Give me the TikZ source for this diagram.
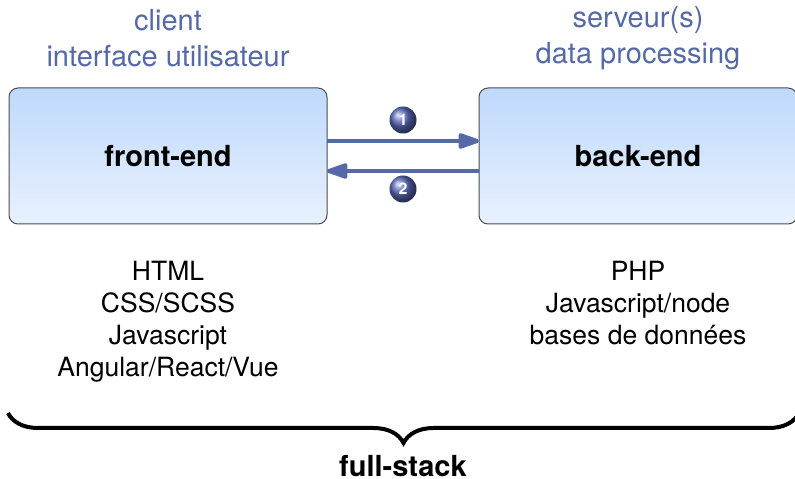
\documentclass[tikz,border=0pt]{standalone}
\usepackage{fontspec}
\setmainfont{TeX Gyre Heros}
\usetikzlibrary{arrows.meta, decorations.pathreplacing}
\definecolor{linkblue}{HTML}{5469A6}
\definecolor{boxtop}{HTML}{BFD9FC}
\definecolor{boxbottom}{HTML}{E8F1FE}
\begin{document}
\begin{tikzpicture}[x=1pt, y=1pt]
    \tikzset{
        tier box/.style={draw=black!70, line width=1pt, rounded corners=9pt, minimum width=318pt,
            minimum height=136pt, outer sep=0pt, top color=boxtop, bottom color=boxbottom,
            font=\fontsize{29}{32}\selectfont\bfseries},
        tier title/.style={align=center, text=linkblue, font=\fontsize{29}{36}\selectfont},
        tier list/.style={align=center, anchor=north, font=\fontsize{26.5}{32}\selectfont},
        link/.style={draw=linkblue, line width=4pt, -{Triangle[length=25pt, width=16pt, round]}},
        step ball/.style={circle, inner sep=0pt, minimum size=27pt, shading=ball,
            ball color=linkblue!85!blue!90!white, text=white, font=\fontsize{16}{16}\selectfont\bfseries},
    }
    \useasboundingbox (0, 0) rectangle (795, 479);
    \node[tier box] (frontend) at (168, 323) {front-end};
    \node[tier box] (backend) at (638, 323) {back-end};
    \node[tier title] (clienttitle) at (168, 441) {client\\interface utilisateur};
    \node[tier title] (servertitle) at (638, 441) {serveur(s)\\data processing};
    \node[tier list] (frontlist) at (168, 221) {HTML\\CSS/SCSS\\Javascript\\Angular/React/Vue};
    \node[tier list] (backlist) at (638, 221) {PHP\\Javascript/node\\bases de données};
    % the two links sit above and below the middle of the boxes
    \draw[link] ([yshift=15pt]frontend.east) -- ([yshift=15pt]backend.west);
    \draw[link] ([yshift=-15pt]backend.west) -- ([yshift=-15pt]frontend.east);
    \node[step ball] (stepone) at (403, 359) {1};
    \node[step ball] (steptwo) at (403, 290) {2};
    \coordinate (braceleft) at (8, 66);
    \coordinate (braceright) at (799, 66);
    \draw[line width=4pt, decorate, decoration={brace, mirror, amplitude=30pt}] (braceleft) -- (braceright);
    \node[anchor=base, inner sep=0pt, font=\fontsize{29}{32}\selectfont\bfseries] (fullstack) at (403, 2) {full-stack};
\end{tikzpicture}
\end{document}
